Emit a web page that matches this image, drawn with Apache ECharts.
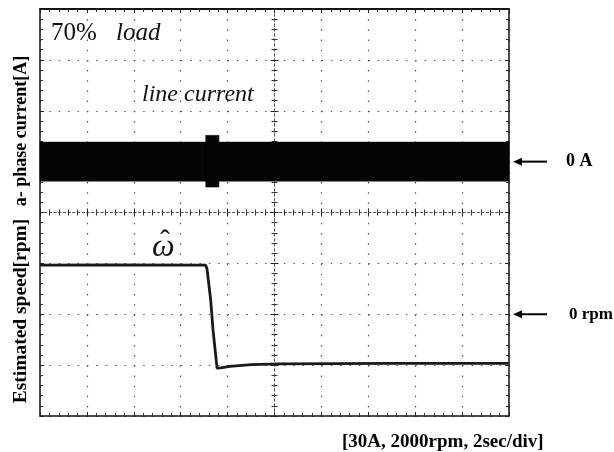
<!DOCTYPE html>
<html><head><meta charset="utf-8">
<script src="https://cdn.jsdelivr.net/npm/echarts@6/dist/echarts.min.js"></script>
<style>html,body{margin:0;padding:0;background:#fff}#c{width:614px;height:452px}</style>
</head><body><div id="c"></div>
<script>
// Scope settings: 2 s/div (10 div), 30 A/div, 2000 rpm/div (8 div vertically)
const timeRange = [0, 20];
const divRange = [-4, 4];
// a-phase current envelope (A); 0 A sits at +1 div
const currentTime  = [0, 7.08, 7.08, 7.62, 7.62, 20];
const currentUpper = [11.5, 11.5, 15.5, 15.5, 11.5, 11.5];
const currentLower = [-11.5, -11.5, -15, -15, -11.5, -11.5];
// estimated speed (rpm); 0 rpm sits at -2 div
const speedTime = [0, 3, 7.06, 7.12, 7.28, 7.38, 7.55, 7.7, 8.1, 9.0, 10.2, 15, 20];
const speedRpm  = [1930, 1940, 1930, 1800, 550, -630, -2120, -2110, -2050, -1980, -1950, -1935, -1930];
// texts
const labelCurrentAxis = 'a- phase current[A]';
const labelSpeedAxis = 'Estimated speed[rpm]';
const labelLoadNum = '70%';
const labelLoad = 'load';
const labelLine = 'line current';
const labelOmega = 'ω';
const labelHat = '\u02C6';
const labelZeroA = '0 A';
const labelZeroRpm = '0 rpm';
const labelScale = '[30A, 2000rpm, 2sec/div]';

const toDivA = a => 1 + a / 30;
const toDivS = r => -2 + r / 2000;

const SERIF = '"Liberation Serif","DejaVu Serif",serif';
const chart = echarts.init(document.getElementById('c'), null, {renderer: 'canvas'});

const gridW = 469, gridH = 407;
const dotX = [1.5, 46.9 / 5 - 1.5];
const dotY = [1.5, 50.9 / 5 - 1.5];

function borderX(pos, idx) {
  return {
    type: 'value', min: timeRange[0], max: timeRange[1], interval: 2, position: pos,
    axisLine: {show: true, onZero: false, lineStyle: {color: '#111', width: pos === 'top' ? 2 : 1.5}},
    axisTick: {show: true, inside: true, length: 4, lineStyle: {color: '#222'}},
    minorTick: {show: true, splitNumber: 5, length: 3, lineStyle: {color: '#333'}},
    axisLabel: {show: false}, splitLine: {show: idx === 0, lineStyle: {color: '#555', width: 1.2, type: dotY}}
  };
}
function borderY(pos, idx) {
  return {
    type: 'value', min: divRange[0], max: divRange[1], interval: 1, position: pos,
    axisLine: {show: true, onZero: false, lineStyle: {color: '#111', width: 1.5}},
    axisTick: {show: true, inside: true, length: 4, lineStyle: {color: '#222'}},
    minorTick: {show: true, splitNumber: 5, length: 3, lineStyle: {color: '#333'}},
    axisLabel: {show: false}, splitLine: {show: idx === 0, lineStyle: {color: '#555', width: 1.2, type: dotX}}
  };
}
function centerX(inside) {
  return {
    type: 'value', min: timeRange[0], max: timeRange[1], interval: 2, position: 'bottom', offset: -gridH / 2,
    axisLine: {show: true, onZero: false, lineStyle: {color: '#555', width: 1, type: [2, 2.7]}},
    axisTick: {show: true, inside: inside, length: 4, lineStyle: {color: '#222'}},
    minorTick: {show: true, splitNumber: 5, length: 3, lineStyle: {color: '#333'}},
    axisLabel: {show: false}, splitLine: {show: false}
  };
}
function centerY(inside) {
  return {
    type: 'value', min: divRange[0], max: divRange[1], interval: 1, position: 'left', offset: -gridW / 2,
    axisLine: {show: true, onZero: false, lineStyle: {color: '#555', width: 1, type: [2, 3]}},
    axisTick: {show: true, inside: inside, length: 4, lineStyle: {color: '#222'}},
    minorTick: {show: true, splitNumber: 5, length: 3, lineStyle: {color: '#333'}},
    axisLabel: {show: false}, splitLine: {show: false}
  };
}

const bandData = currentTime.map((t, i) => [t, toDivA(currentUpper[i]), toDivA(currentLower[i])]);

chart.setOption({
  animation: false,
  backgroundColor: '#fff',
  grid: {left: 40, top: 9, width: gridW, height: gridH, containLabel: false},
  xAxis: [borderX('bottom', 0), borderX('top', 1), centerX(false), centerX(true)],
  yAxis: [borderY('left', 0), borderY('right', 1), centerY(false), centerY(true)],
  series: [
    {
      type: 'custom', name: 'current', xAxisIndex: 0, yAxisIndex: 0,
      data: bandData, encode: {x: 0, y: [1, 2]},
      renderItem: function (params, api) {
        const i = params.dataIndex;
        if (i >= bandData.length - 1) return null;
        const a = bandData[i], b = bandData[i + 1];
        const u1 = api.coord([a[0], a[1]]), u2 = api.coord([b[0], b[1]]);
        const l2 = api.coord([b[0], b[2]]), l1 = api.coord([a[0], a[2]]);
        return {type: 'polygon', shape: {points: [u1, u2, l2, l1]},
          style: {fill: '#050505', stroke: '#050505', lineWidth: 0.5}};
      },
      z: 5
    },
    {
      type: 'line', name: 'speed', xAxisIndex: 0, yAxisIndex: 0,
      data: speedTime.map((t, i) => [t, toDivS(speedRpm[i])]),
      showSymbol: false, smooth: false,
      lineStyle: {color: '#1a1a1a', width: 2.8},
      z: 6
    }
  ]
});

const xR = chart.convertToPixel({xAxisIndex: 0}, timeRange[1]);
const yA = chart.convertToPixel({yAxisIndex: 0}, toDivA(0));
const yR = chart.convertToPixel({yAxisIndex: 0}, toDivS(0));

function arrow(y) {
  return [
    {type: 'line', shape: {x1: xR + 10, y1: y, x2: xR + 38, y2: y}, style: {stroke: '#000', lineWidth: 2}},
    {type: 'polygon', shape: {points: [[xR + 4, y], [xR + 13, y - 4], [xR + 13, y + 4]]}, style: {fill: '#000'}}
  ];
}

chart.setOption({
  graphic: [
    ...arrow(yA), ...arrow(yR),
    {type: 'text', x: 566, y: yA, style: {text: labelZeroA, font: 'bold 18px ' + SERIF, fill: '#000', verticalAlign: 'middle'}},
    {type: 'text', x: 569, y: yR, style: {text: labelZeroRpm, font: 'bold 17px ' + SERIF, fill: '#000', verticalAlign: 'middle'}},
    {type: 'text', x: 342, y: 442, style: {text: labelScale, font: 'bold 19px ' + SERIF, fill: '#000', verticalAlign: 'middle'}},
    {type: 'text', x: 51, y: 33, style: {text: labelLoadNum, font: '25px ' + SERIF, fill: '#111', verticalAlign: 'middle'}},
    {type: 'text', x: 116, y: 33, style: {text: labelLoad, font: 'italic 25px ' + SERIF, fill: '#111', verticalAlign: 'middle'}},
    {type: 'text', x: 142, y: 95, style: {text: labelLine, font: 'italic 24px ' + SERIF, fill: '#111', verticalAlign: 'middle'}},
    {type: 'text', x: 152, y: 248, style: {text: labelOmega, font: 'italic 32px ' + SERIF, fill: '#111', verticalAlign: 'middle'}},
    {type: 'text', x: 165, y: 242, style: {text: labelHat, font: '30px ' + SERIF, fill: '#111', align: 'center', verticalAlign: 'middle'}},
    {type: 'text', x: 21, y: 131, rotation: Math.PI / 2, style: {text: labelCurrentAxis, font: 'bold 18px ' + SERIF, fill: '#000', align: 'center', verticalAlign: 'middle'}},
    {type: 'text', x: 21, y: 311, rotation: Math.PI / 2, style: {text: labelSpeedAxis, font: 'bold 19.5px ' + SERIF, fill: '#000', align: 'center', verticalAlign: 'middle'}}
  ]
});
</script>
</body></html>
